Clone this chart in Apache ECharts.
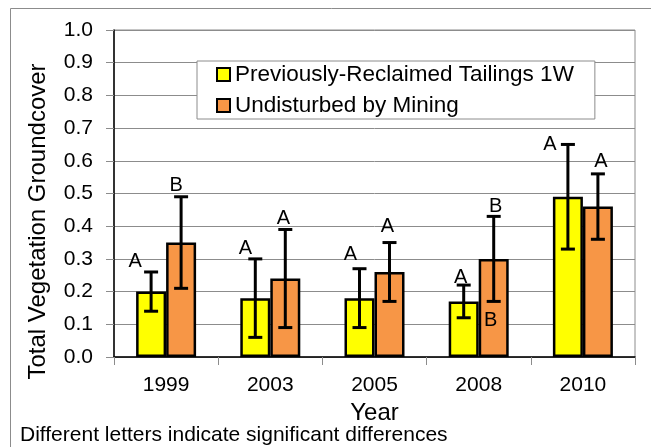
<!DOCTYPE html>
<html>
<head>
<meta charset="utf-8">
<script src="https://cdn.jsdelivr.net/npm/echarts@6/dist/echarts.min.js"></script>
<style>
html,body{margin:0;padding:0;background:#fff;}
#chart{width:651px;height:447px;}
</style>
</head>
<body>
<div id="chart"></div>
<script>
// ---- data ----
const categories = ['1999', '2003', '2005', '2008', '2010'];
const reclaimed = [0.20, 0.18, 0.18, 0.17, 0.49];
const reclaimedLow = [0.14, 0.06, 0.09, 0.12, 0.33];
const reclaimedHigh = [0.26, 0.30, 0.27, 0.22, 0.65];
const undisturbed = [0.35, 0.24, 0.26, 0.30, 0.46];
const undisturbedLow = [0.21, 0.09, 0.17, 0.17, 0.36];
const undisturbedHigh = [0.49, 0.39, 0.35, 0.43, 0.56];
const reclaimedLetters = ['A', 'A', 'A', 'A', 'A'];
const undisturbedLetters = ['B', 'A', 'A', 'B', 'A'];
const undisturbedInnerLetters = ['', '', '', 'B', ''];
const seriesNames = ['Previously-Reclaimed Tailings 1W', 'Undisturbed by Mining'];

// ---- layout (pixel nudges for letter annotations) ----
const reclaimedLetterNudge = [[-16, -10], [-10, -10], [-9, -14], [-3, -8], [-18, 0]];
const undisturbedLetterNudge = [[-5, -11], [-2, -11], [-2, -16], [2, -10], [3, -12]];
const innerLetterNudge = [-3, 19];
const BAR_W = 30;

const FONT = 'Liberation Sans, Arial, sans-serif';

function errRenderer(letters, nudges, innerLetters, side) {
  return function (params, api) {
    const i = api.value(0);
    const lo = api.coord([i, api.value(1)]);
    const hi = api.coord([i, api.value(2)]);
    const x = lo[0] + side * BAR_W / 2;
    const cap = 7;
    const ls = { stroke: '#000', lineWidth: 3 };
    const children = [
      { type: 'line', shape: { x1: x, y1: lo[1], x2: x, y2: hi[1] }, style: ls },
      { type: 'line', shape: { x1: x - cap, y1: lo[1], x2: x + cap, y2: lo[1] }, style: ls },
      { type: 'line', shape: { x1: x - cap, y1: hi[1], x2: x + cap, y2: hi[1] }, style: ls }
    ];
    const n = nudges[i];
    children.push({
      type: 'text',
      style: {
        text: letters[i], x: x + n[0], y: hi[1] + n[1],
        align: 'center', verticalAlign: 'middle',
        font: '20px ' + FONT, fill: '#000'
      }
    });
    if (innerLetters && innerLetters[i]) {
      children.push({
        type: 'text',
        style: {
          text: innerLetters[i], x: x + innerLetterNudge[0], y: lo[1] + innerLetterNudge[1],
          align: 'center', verticalAlign: 'middle',
          font: '20px ' + FONT, fill: '#000'
        }
      });
    }
    return { type: 'group', children: children };
  };
}

const chart = echarts.init(document.getElementById('chart'), null, { renderer: 'canvas' });
chart.setOption({
  animation: false,
  backgroundColor: '#fff',
  textStyle: { fontFamily: FONT },
  graphic: [
    {
      type: 'rect', z: -10, silent: true,
      shape: { x: 10.5, y: 8.5, width: 700, height: 500 },
      style: { fill: 'none', stroke: '#8c8c8c', lineWidth: 1 }
    },
    {
      type: 'text', left: 20, top: 425,
      style: { text: 'Different letters indicate significant differences', font: '21px ' + FONT, fill: '#000' }
    }
  ],
  grid: { left: 114, right: 16, top: 30, bottom: 90, show: true, borderColor: '#8c8c8c', borderWidth: 1 },
  legend: {
    data: seriesNames,
    orient: 'vertical',
    left: 197, top: 61,
    padding: [2, 21, 2, 19],
    itemGap: 8,
    itemWidth: 13, itemHeight: 13,
    itemStyle: { borderWidth: 2, borderColor: '#000' },
    itemTextGap: 4,
    backgroundColor: '#fff',
    borderColor: '#8c8c8c', borderWidth: 1,
    borderRadius: 0,
    textStyle: { fontSize: 22.5, color: '#000', fontFamily: FONT },
    icon: 'rect'
  },
  xAxis: {
    type: 'category',
    data: categories,
    name: 'Year',
    nameLocation: 'middle',
    nameGap: 43,
    nameTextStyle: { fontSize: 24, color: '#000', fontFamily: FONT },
    axisLine: { lineStyle: { color: '#000', width: 1.5 } },
    axisTick: { show: true, length: 8, lineStyle: { color: '#8c8c8c' } },
    axisLabel: { fontSize: 21, color: '#000', margin: 18, fontFamily: FONT }
  },
  yAxis: {
    type: 'value',
    min: 0, max: 1, interval: 0.1,
    name: 'Total Vegetation Groundcover',
    nameLocation: 'middle',
    nameGap: 64,
    nameTextStyle: { fontSize: 24, color: '#000', fontFamily: FONT, padding: [0, 56, 0, 0] },
    axisLine: { show: true, lineStyle: { color: '#000', width: 1.5 } },
    axisTick: { show: true, length: 8, lineStyle: { color: '#8c8c8c' } },
    axisLabel: { fontSize: 21, color: '#000', margin: 21, fontFamily: FONT, formatter: v => v.toFixed(1) },
    splitLine: { show: true, lineStyle: { color: '#8c8c8c', width: 1 } }
  },
  series: [
    {
      name: seriesNames[0], type: 'bar', data: reclaimed,
      barWidth: BAR_W, barGap: '0%',
      itemStyle: { color: '#ffff00', borderColor: '#000', borderWidth: 2.5 }
    },
    {
      name: seriesNames[1], type: 'bar', data: undisturbed,
      barWidth: BAR_W, barGap: '0%',
      itemStyle: { color: '#f79646', borderColor: '#000', borderWidth: 2.5 }
    },
    {
      name: 'err1', type: 'custom', z: 5,
      renderItem: errRenderer(reclaimedLetters, reclaimedLetterNudge, null, -1),
      data: categories.map((c, i) => [i, reclaimedLow[i], reclaimedHigh[i]]),
      encode: { x: 0, y: [1, 2] }
    },
    {
      name: 'err2', type: 'custom', z: 5,
      renderItem: errRenderer(undisturbedLetters, undisturbedLetterNudge, undisturbedInnerLetters, 1),
      data: categories.map((c, i) => [i, undisturbedLow[i], undisturbedHigh[i]]),
      encode: { x: 0, y: [1, 2] }
    }
  ]
});
</script>
</body>
</html>
